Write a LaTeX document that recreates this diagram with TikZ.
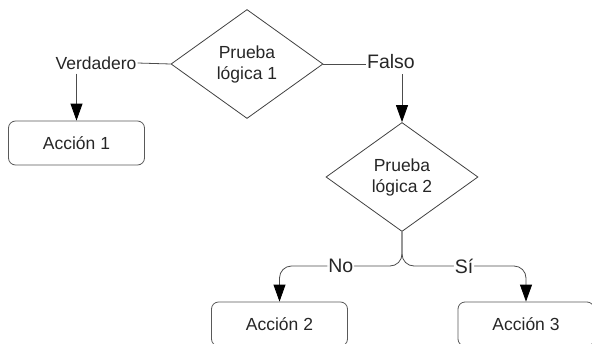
\documentclass[tikz,border=0pt]{standalone}
\usepackage{fontspec}
\setmainfont{Liberation Sans}
\usetikzlibrary{shapes.geometric,arrows.meta}
\begin{document}
\begin{tikzpicture}[x=1pt,y=-1pt,
  every node/.style={text=black!85},
  txt/.style={font=\fontsize{17.5}{21}\selectfont},
  lbl/.style={font=\fontsize{19.5}{23}\selectfont, fill=white, inner sep=1pt},
  decision/.style={diamond, draw=black!75, line width=0.8pt, inner sep=0pt,
    minimum width=152pt, minimum height=109pt, align=center, txt},
  action/.style={rectangle, rounded corners=7pt, draw=black!65, line width=0.8pt,
    minimum width=136pt, minimum height=44pt, txt},
  conn/.style={draw=black!70, line width=0.8pt},
  arr/.style={conn, -{Triangle[length=17pt,width=12pt,fill=black,color=black]}},
]
\useasboundingbox (0,0) rectangle (592,343);
\node[decision] (d1) at (247,64) {Prueba\\lógica 1};
\node[decision] (d2) at (402,177) {Prueba\\lógica 2};
\node[action] (a1) at (76.5,143) {Acción 1};
\node[action] (a2) at (279.5,324) {Acción 2};
\node[action] (a3) at (526,324) {Acción 3};
\node[txt, inner sep=1pt] (ver) at (96,63) {Verdadero};
\node[font=\fontsize{19.5}{23}\selectfont, inner sep=1pt] (fal) at (391,62) {Falso};
\coordinate (split) at (402,266);
\draw[conn] (d1.west) -- (ver.east);
\draw[arr] (ver.south -| a1.north) ++(0,3) -- (a1.north);
\draw[conn] (d1.east) -- (fal.west |- d1.east);
\draw[arr] (fal.south -| d2.north) ++(0,4) -- (d2.north);
\draw[arr, rounded corners=12pt] (d2.south) -- (split) -| node[lbl, pos=0.25] {No} (a2.north);
\draw[arr, rounded corners=12pt] (d2.south) -- (split) -| node[lbl, pos=0.25] {Sí} (a3.north);
\end{tikzpicture}
\end{document}
